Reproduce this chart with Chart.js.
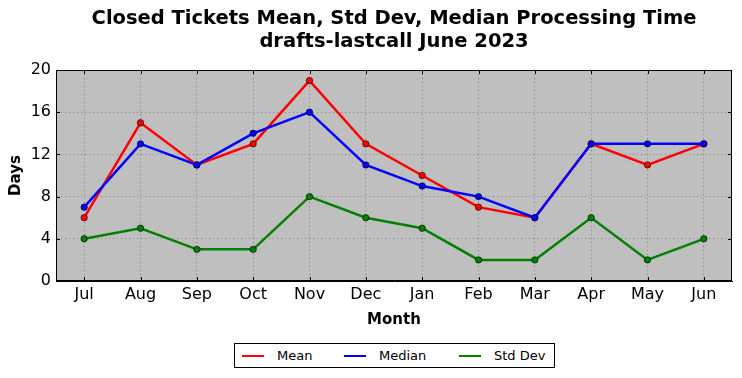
<!DOCTYPE html>
<html>
<head>
<meta charset="utf-8">
<script src="https://cdn.jsdelivr.net/npm/chart.js@4/dist/chart.umd.min.js"></script>
<style>
  html, body { margin: 0; padding: 0; background: #ffffff; }
  #wrap { position: relative; width: 742px; height: 378px; }
  #legend { position: absolute; left: 234px; top: 343px; width: 319px; height: 23px;
            border: 1px solid #000; background: #fff; font-family: "DejaVu Sans", sans-serif; font-size: 13px; }
  .sw { position: absolute; top: 11px; width: 22px; height: 2px; }
  .lt { position: absolute; top: 4px; line-height: 15px; color: #000; }
</style>
</head>
<body>
<div id="wrap">
  <canvas id="c" width="742" height="378"></canvas>
  <div id="legend">
    <div class="sw" style="left:7px;background:#ff0000"></div><div class="lt" style="left:42px">Mean</div>
    <div class="sw" style="left:109px;background:#0000ff"></div><div class="lt" style="left:144px">Median</div>
    <div class="sw" style="left:224px;background:#008000"></div><div class="lt" style="left:259px">Std Dev</div>
  </div>
</div>
<script>
const months = ["Jul","Aug","Sep","Oct","Nov","Dec","Jan","Feb","Mar","Apr","May","Jun"];
const meanValues = [6, 15, 11, 13, 19, 13, 10, 7, 6, 13, 11, 13];
const medianValues = [7, 13, 11, 14, 16, 11, 9, 8, 6, 13, 13, 13];
const stdDevValues = [4, 5, 3, 3, 8, 6, 5, 2, 2, 6, 2, 4];
const yTicks = [0, 4, 8, 12, 16, 20];
const titleLines = ["Closed Tickets Mean, Std Dev, Median Processing Time", "drafts-lastcall June 2023"];

const FONT = "'DejaVu Sans', sans-serif";

const frame = {
  id: 'frame',
  beforeDraw(chart) {
    const a = chart.chartArea, ctx = chart.ctx;
    ctx.save();
    ctx.fillStyle = '#bfbfbf';
    ctx.fillRect(a.left, a.top, a.right - a.left, a.bottom - a.top);
    ctx.restore();
  },
  afterDatasetsDraw(chart) {
    const a = chart.chartArea, ctx = chart.ctx;
    const xs = chart.scales.x, ys = chart.scales.y;
    ctx.save();
    ctx.strokeStyle = '#000';
    ctx.lineWidth = 1;
    ctx.beginPath();
    xs.ticks.forEach((t, i) => {
      const x = Math.round(xs.getPixelForTick(i)) + 0.5;
      ctx.moveTo(x, a.bottom); ctx.lineTo(x, a.bottom - 4);
      ctx.moveTo(x, a.top); ctx.lineTo(x, a.top + 4);
    });
    ys.ticks.forEach((t, i) => {
      const y = Math.round(ys.getPixelForTick(i)) + 0.5;
      ctx.moveTo(a.left, y); ctx.lineTo(a.left + 4, y);
      ctx.moveTo(a.right, y); ctx.lineTo(a.right - 4, y);
    });
    ctx.stroke();
    ctx.strokeRect(Math.round(a.left) + 0.5, Math.round(a.top) + 0.5,
                   Math.round(a.right - a.left) - 1, Math.round(a.bottom - a.top) - 1);
    ctx.restore();
  }
};

function ds(label, data, color, order) {
  return {
    label, data, order,
    borderColor: color, backgroundColor: color,
    borderWidth: 2.5, tension: 0,
    pointRadius: 3.2, pointHoverRadius: 3.2,
    pointBorderColor: '#000', pointBorderWidth: 0.6,
    pointBackgroundColor: color
  };
}

new Chart(document.getElementById('c'), {
  type: 'line',
  data: {
    labels: months,
    datasets: [
      ds('Mean', meanValues, '#ff0000', 2),
      ds('Median', medianValues, '#0000ff', 1),
      ds('Std Dev', stdDevValues, '#008000', 0)
    ]
  },
  options: {
    responsive: false,
    animation: false,
    devicePixelRatio: 1,
    layout: { padding: { top: 6, left: 0, right: 10, bottom: 0 } },
    plugins: {
      legend: { display: false },
      tooltip: { enabled: false },
      title: {
        display: true,
        fullSize: false,
        text: titleLines,
        color: '#000',
        font: { family: FONT, size: 19.5, weight: 'bold', lineHeight: 1.15 },
        padding: { top: 1.8, bottom: 17.35 }
      }
    },
    scales: {
      x: {
        type: 'category',
        offset: true,
        afterFit(s) { s.height = 97; },
        grid: { display: true, drawTicks: false, color: 'rgba(0,0,0,0.32)', lineWidth: 1, offset: false },
        border: { display: true, color: '#000', dash: [1, 3] },
        ticks: { color: '#000', font: { family: FONT, size: 16 }, padding: 4, maxRotation: 0, autoSkip: false },
        title: { display: true, text: 'Month', color: '#000', font: { family: FONT, size: 15, weight: 'bold', lineHeight: 1.2 }, padding: { top: 0, bottom: 49 } }
      },
      y: {
        min: 0, max: 20,
        afterFit(s) { s.width = 56; },
        afterBuildTicks(s) { s.ticks = yTicks.map(v => ({ value: v })); },
        grid: { display: true, drawTicks: false, color: 'rgba(0,0,0,0.32)', lineWidth: 1 },
        border: { display: true, color: '#000', dash: [1, 3] },
        ticks: { color: '#000', font: { family: FONT, size: 16 }, padding: 5 },
        title: { display: true, text: 'Days', color: '#000', font: { family: FONT, size: 15, weight: 'bold', lineHeight: 1.2 }, padding: { top: 7, bottom: 0 } }
      }
    }
  },
  plugins: [frame]
});
</script>
</body>
</html>
